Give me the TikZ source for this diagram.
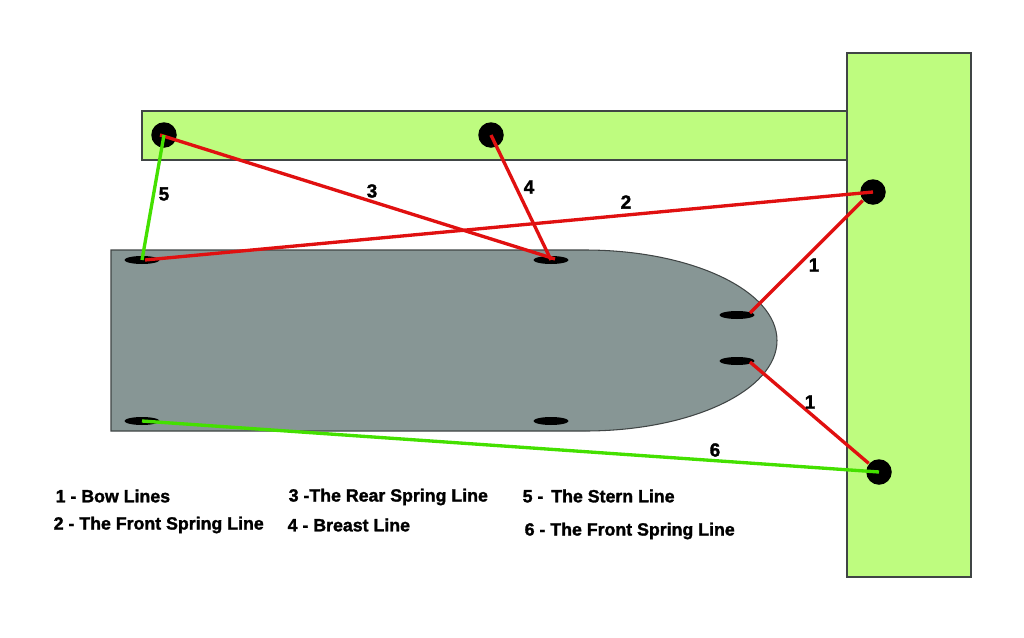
\documentclass[tikz,border=0pt]{standalone}
\usepackage{fontspec}
\setmainfont[BoldFeatures={FakeBold=1.6}]{Liberation Sans}
\usepackage{xcolor}
\usetikzlibrary{shapes.geometric}
\definecolor{dockgreen}{HTML}{BEFC7F}
\definecolor{hullgrey}{HTML}{879695}
\definecolor{edgegrey}{HTML}{404545}
\definecolor{linered}{HTML}{E01010}
\definecolor{linegreen}{HTML}{44E000}
\tikzset{
  bollard/.style={circle, fill=black, minimum size=0.255cm, inner sep=0pt},
  cleat/.style={ellipse, fill=black, minimum width=0.35cm, minimum height=0.08cm, inner sep=0pt},
  redline/.style={draw=linered, line width=0.95pt},
  greenline/.style={draw=linegreen, line width=0.95pt},
  tag/.style={font=\bfseries\fontsize{5.4}{6.5}\selectfont, inner sep=0pt},
  legend/.style={font=\bfseries\fontsize{5.05}{6}\selectfont, inner sep=0pt, anchor=west}
}

\begin{document}
\begin{tikzpicture}
  \useasboundingbox (0,0) rectangle (10.24,6.37);

  % Dock and pier
  \draw[fill=dockgreen, draw=edgegrey, line width=0.4pt] (1.42,4.77) rectangle (8.47,5.26);
  \draw[fill=dockgreen, draw=edgegrey, line width=0.4pt] (8.47,0.60) rectangle (9.71,5.84);

  % Boat hull
  \draw[fill=hullgrey, draw=edgegrey, line width=0.3pt] (1.11,2.06) -- (1.11,3.87) -- (5.85,3.87)
    arc[start angle=90, end angle=-90, x radius=1.92, y radius=0.905] -- cycle;

  % Bollards
  \node[bollard] (b1) at (1.64,5.02) {};
  \node[bollard] (b2) at (4.91,5.02) {};
  \node[bollard] (b3) at (8.73,4.45) {};
  \node[bollard] (b4) at (8.79,1.65) {};

  % Cleats
  \node[cleat] (c1) at (1.42,3.77) {};
  \node[cleat] (c2) at (5.51,3.77) {};
  \node[cleat] (c3) at (7.37,3.22) {};
  \node[cleat] (c4) at (7.37,2.76) {};
  \node[cleat] (c5) at (1.42,2.16) {};
  \node[cleat] (c6) at (5.51,2.16) {};

  % Line ends that sit off centre
  \coordinate (e1) at (1.45,3.77);
  \coordinate (e2) at (5.55,3.78);
  \coordinate (e3) at (1.60,5.02);
  \coordinate (e4) at (7.50,3.24);
  \coordinate (e5) at (7.50,2.75);

  % Draw lines between nodes
  \draw[redline] (e3) -- (e2);
  \draw[redline] (b2.center) -- (c2.center);
  \draw[redline] (b3.center) -- (e1);
  \draw[redline] (b3.220) -- (e4);
  \draw[redline] (b4.140) -- (e5);
  \draw[greenline] (b1.center) -- (c1.center);
  \draw[greenline] (b4.center) -- (c5.center);

  % Numbers on the lines
  \node[tag] (n5) at (1.64,4.43) {5};
  \node[tag] (n3) at (3.72,4.46) {3};
  \node[tag] (n4) at (5.29,4.50) {4};
  \node[tag] (n2) at (6.26,4.35) {2};
  \node[tag] (n1a) at (8.14,3.72) {1};
  \node[tag] (n1b) at (8.10,2.35) {1};
  \node[tag] (n6) at (7.15,1.87) {6};

  % Legend
  \node[legend] (k1) at (0.55,1.41) {1 - Bow Lines};
  \node[legend] (k2) at (0.53,1.12) {2 - The Front Spring Line};
  \node[legend] (k3) at (2.88,1.40) {3 -The Rear Spring Line};
  \node[legend] (k4) at (2.87,1.12) {4 - Breast Line};
  \node[legend] (k5) at (5.22,1.41) {5 - \,The Stern Line};
  \node[legend] (k6) at (5.24,1.06) {6 - The Front Spring Line};

\end{tikzpicture}
\end{document}
